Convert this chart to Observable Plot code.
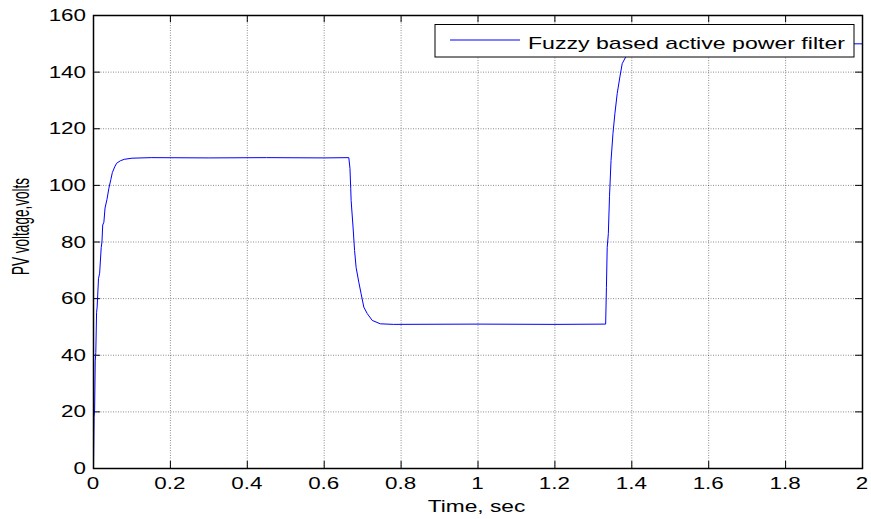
<!DOCTYPE html>
<html><head><meta charset="utf-8">
<script src="https://cdn.jsdelivr.net/npm/d3@7"></script>
<script src="https://cdn.jsdelivr.net/npm/@observablehq/plot@0.6"></script>
<style>
body{margin:0;background:#fff}
svg{font-family:"Liberation Sans",Arial,sans-serif}
</style>
</head><body><div id="chart"></div>
<script>
const time = [0,0.0015,0.003,0.0045,0.006,0.008,0.0095,0.013,0.016,0.02,0.022,0.024,0.027,0.03,0.035,0.04,0.045,0.049,0.055,0.06,0.07,0.08,0.1,0.15,0.3,0.45,0.6,0.664,0.667,0.669,0.670,0.675,0.679,0.683,0.69,0.696,0.703,0.712,0.725,0.746,0.78,1.0,1.2,1.332,1.334,1.336,1.339,1.342,1.346,1.351,1.356,1.362,1.369,1.375,1.384,1.40,1.45,1.5,1.8,2.0];
const voltage = [0,18,21,38,41,55,57,67,69,78,80,86,87,92,95,99,102,104.5,106.5,107.8,108.7,109.2,109.6,109.8,109.7,109.8,109.7,109.8,106,99,94.7,85.3,77,71,65.8,61.7,57,54.7,52.3,51.1,50.9,51,50.9,51,64,78,83,96,108.8,118.3,125.3,132.4,138.3,143,145.3,147,149.5,150,150,150];
const xTicks = [0,0.2,0.4,0.6,0.8,1,1.2,1.4,1.6,1.8,2];
const xTickLabels = ["0","0.2","0.4","0.6","0.8","1","1.2","1.4","1.6","1.8","2"];
const yTicks = [0,20,40,60,80,100,120,140,160];
const yTickLabels = ["0","20","40","60","80","100","120","140","160"];
const seriesName = "Fuzzy based active power filter";
const xLabel = "Time, sec";
const yLabel = "PV voltage,volts";

const data = time.map((t, i) => ({t, v: voltage[i]}));
const W = 871, H = 519;
const gridStyle = {stroke: "#000", strokeOpacity: 0.45, strokeDasharray: "1,1.5"};
const chart = Plot.plot({
  width: W, height: H,
  marginLeft: 93, marginRight: 9, marginTop: 15, marginBottom: 51,
  x: {domain: [0, 2], axis: null},
  y: {domain: [0, 160], axis: null},
  marks: [
    Plot.gridX(xTicks, gridStyle),
    Plot.gridY(yTicks, gridStyle),
    Plot.ruleX(xTicks, {y1: 0, y2: 2.5, stroke: "#000"}),
    Plot.ruleX(xTicks, {y1: 160, y2: 157.5, stroke: "#000"}),
    Plot.ruleY(yTicks, {x1: 0, x2: 0.018, stroke: "#000"}),
    Plot.ruleY(yTicks, {x1: 2, x2: 1.982, stroke: "#000"}),
    Plot.line(data, {x: "t", y: "v", stroke: "#0000ff", strokeWidth: 1}),
    Plot.frame({stroke: "#000", strokeWidth: 1.5})
  ]
});
chart.style.background = "#fff";
document.getElementById("chart").appendChild(chart);

const sx = chart.scale("x"), sy = chart.scale("y");
const svg = d3.select(chart);
const x0 = sx.apply(0), x1 = sx.apply(2), y0 = sy.apply(0), y1 = sy.apply(160);

// x tick labels
const gx = svg.append("g").attr("font-size", 16).attr("fill", "#000").attr("text-anchor", "middle");
xTicks.forEach((v, i) => {
  gx.append("text")
    .attr("transform", `translate(${sx.apply(v)},${y0 + 21}) scale(1.4,1)`)
    .text(xTickLabels[i]);
});
// y tick labels
const gy = svg.append("g").attr("font-size", 16).attr("fill", "#000").attr("text-anchor", "end");
yTicks.forEach((v, i) => {
  gy.append("text")
    .attr("transform", `translate(${x0 - 7},${sy.apply(v) + 6}) scale(1.4,1)`)
    .text(yTickLabels[i]);
});
// axis labels
svg.append("text")
  .attr("transform", `translate(${(x0 + x1) / 2 - 1},${y0 + 44}) scale(1.42,1)`)
  .attr("text-anchor", "middle").attr("font-size", 16).attr("fill", "#000")
  .text(xLabel);
svg.append("text")
  .attr("transform", `translate(29,${(y0 + y1) / 2 - 15}) scale(1.3,1) rotate(-90)`)
  .attr("text-anchor", "middle").attr("font-size", 18).attr("fill", "#000")
  .attr("textLength", 97).attr("lengthAdjust", "spacingAndGlyphs")
  .text(yLabel);

// legend
const lg = svg.append("g");
const lx = x1 - 427, ly = y1 + 9.5, lw = 419, lh = 32.5;
lg.append("rect").attr("x", lx).attr("y", ly).attr("width", lw).attr("height", lh)
  .attr("fill", "#fff").attr("stroke", "#000").attr("stroke-width", 1);
lg.append("line").attr("x1", lx + 15).attr("x2", lx + 85)
  .attr("y1", ly + 15.5).attr("y2", ly + 15.5)
  .attr("stroke", "#0000ff").attr("stroke-width", 1);
lg.append("text").attr("x", lx + 93).attr("y", ly + 24)
  .attr("text-anchor", "start")
  .attr("font-size", 17).attr("fill", "#000")
  .attr("textLength", 317).attr("lengthAdjust", "spacingAndGlyphs")
  .text(seriesName);
</script>
</body></html>
